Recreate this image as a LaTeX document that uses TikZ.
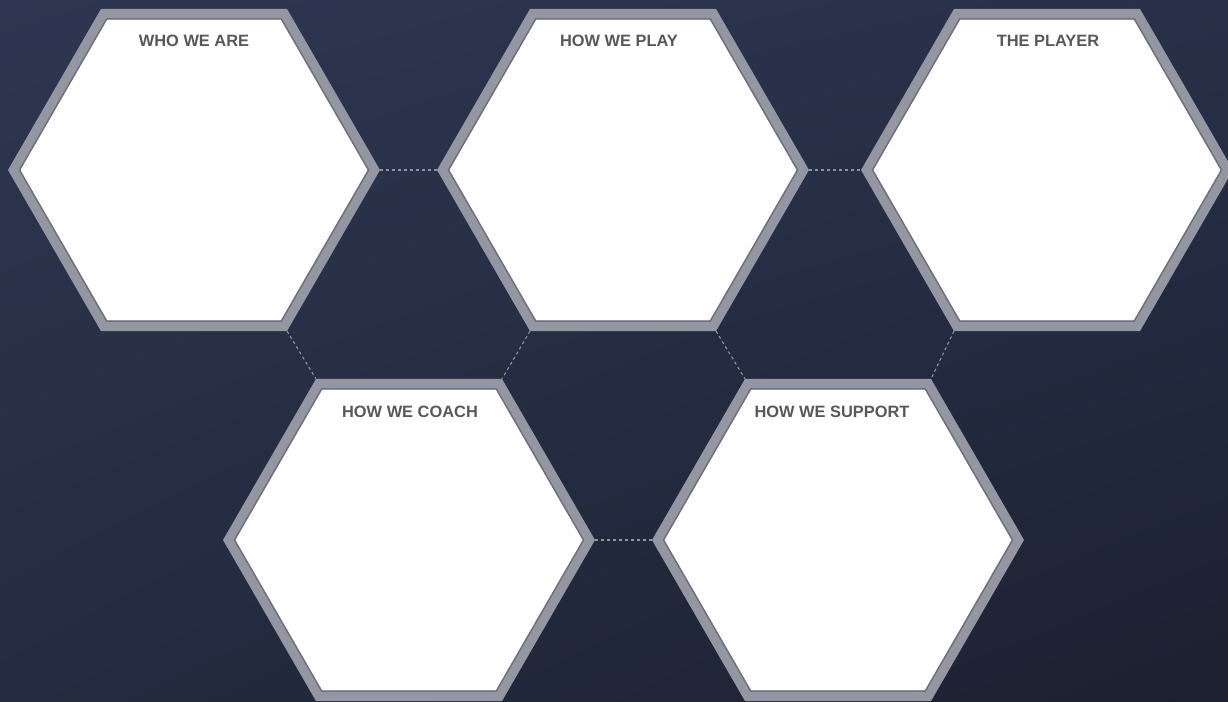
\documentclass[tikz,border=0pt]{standalone}
\usepackage{fontspec}
\setmainfont{Liberation Sans}
\usetikzlibrary{shapes.geometric,shadings}
\definecolor{bgUL}{HTML}{2E3651}
\definecolor{bgUR}{HTML}{283049}
\definecolor{bgLL}{HTML}{252B40}
\definecolor{bgLR}{HTML}{1C2131}
\definecolor{bandgrey}{HTML}{9496A1}
\definecolor{edgegrey}{HTML}{6E717E}
\definecolor{titlegrey}{HTML}{585858}
\definecolor{linkgrey}{HTML}{8E93A3}
\begin{document}
\begin{tikzpicture}[x=1pt,y=-1pt,
  hexband/.style={regular polygon, regular polygon sides=6, minimum size=360pt,
    inner sep=0pt, draw=bandgrey, line width=10.4pt, fill=white},
  hexline/.style={regular polygon, regular polygon sides=6, minimum size=349pt,
    inner sep=0pt, draw=edgegrey, line width=1.5pt},
  title/.style={font=\fontsize{16.4}{18}\selectfont\bfseries, text=titlegrey, inner sep=0pt},
  link/.style={draw=linkgrey, line width=1.1pt, dash pattern=on 3pt off 3pt}]
\useasboundingbox (0,0) rectangle (1228,701);
\clip (0,0) rectangle (1228,701);
\shade[upper left=bgUL, upper right=bgUR, lower left=bgLL, lower right=bgLR]
  (0,0) rectangle (1228,701);

% hexagons
\node[hexband] (h1) at (194,170) {};
\node[hexband] (h2) at (623,170) {};
\node[hexband] (h3) at (1047,170) {};
\node[hexband] (h4) at (409,540) {};
\node[hexband] (h5) at (838,540) {};
\node[hexline] (h1i) at (h1.center) {};
\node[hexline] (h2i) at (h2.center) {};
\node[hexline] (h3i) at (h3.center) {};
\node[hexline] (h4i) at (h4.center) {};
\node[hexline] (h5i) at (h5.center) {};

% dashed connectors
\path[link] (h1.0) -- (h2.180);
\path[link] (h2.0) -- (h3.180);
\path[link] (h4.0) -- (h5.180);
\path[link] (h1.-60) -- (h4.120);
\path[link] (h2.-120) -- (h4.60);
\path[link] (h2.-60) -- (h5.120);
\path[link] (h3.-120) -- (h5.60);

% titles
\node[title] (t1) at (194,41) {WHO WE ARE};
\node[title] (t2) at (619,41) {HOW WE PLAY};
\node[title] (t3) at (1048,41) {THE PLAYER};
\node[title] (t4) at (410,412) {HOW WE COACH};
\node[title] (t5) at (832,412) {HOW WE SUPPORT};
\end{tikzpicture}
\end{document}
